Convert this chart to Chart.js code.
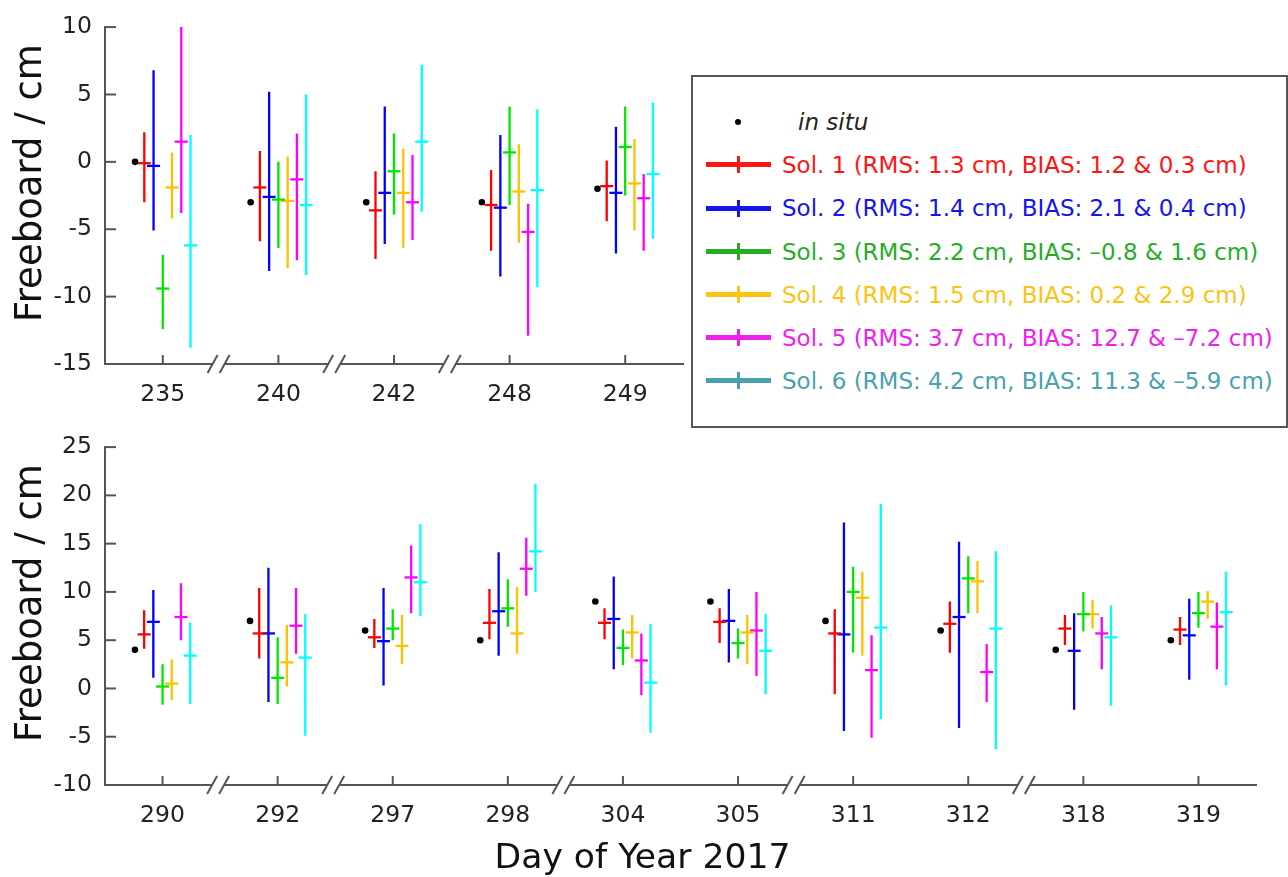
<!DOCTYPE html>
<html>
<head>
<meta charset="utf-8">
<script src="https://cdn.jsdelivr.net/npm/chart.js@4.4.1/dist/chart.umd.min.js"></script>
<style>
  html, body { margin: 0; padding: 0; background: #fff; }
  #wrap { position: relative; width: 1288px; height: 877px; overflow: hidden; font-family: 'DejaVu Sans', sans-serif; }
  canvas { position: absolute; left: 0; }
  #c1 { top: 0; }
  #c2 { top: 420px; }
  #xtitle { position: absolute; left: 0; width: 1285px; top: 839px; text-align: center; font-size: 34.6px; line-height: 35px; color: #111; white-space: nowrap; }
  .ytitle { position: absolute; font-size: 37px; line-height: 37px; color: #111; white-space: nowrap; transform: translate(-50%, -50%) rotate(-90deg); }
  #legendBox { position: absolute; left: 691px; top: 75px; width: 597px; height: 353px; box-sizing: border-box; border: 2px solid #555; background: #fff; }
  .lg { position: absolute; }
  .lgText { position: absolute; left: 782px; font-size: 23px; line-height: 28px; white-space: nowrap; }
</style>
</head>
<body>
<div id="wrap">
  <canvas id="c1" width="1288" height="420"></canvas>
  <canvas id="c2" width="1288" height="457"></canvas>
  <div class="ytitle" style="left:28px; top:183px;">Freeboard / cm</div>
  <div class="ytitle" style="left:28px; top:603px;">Freeboard / cm</div>
  <div id="legendBox"></div>
  <div id="xtitle">Day of Year 2017</div>
</div>
<script>
// ---------------- data ----------------
const topDays = ['235', '240', '242', '248', '249'];
const bottomDays = ['290', '292', '297', '298', '304', '305', '311', '312', '318', '319'];
const topYTicks = [-15, -10, -5, 0, 5, 10];
const bottomYTicks = [-10, -5, 0, 5, 10, 15, 20, 25];
const topBreaks = [0, 1, 2];          // axis break after category index
const bottomBreaks = [0, 1, 3, 5, 7];

const inSituTop = [0, -3, -3, -3, -2];
// each entry: [mean, low, high]
const sol1Top = [[-0.1, -3.0, 2.2], [-1.9, -5.9, 0.8], [-3.6, -7.2, -0.7], [-3.2, -6.6, -0.6], [-1.8, -4.4, 0.1]];
const sol2Top = [[-0.3, -5.1, 6.8], [-2.6, -8.1, 5.2], [-2.3, -6.1, 4.1], [-3.4, -8.5, 2.0], [-2.3, -6.8, 2.6]];
const sol3Top = [[-9.4, -12.4, -6.9], [-2.8, -6.4, 0.0], [-0.7, -3.9, 2.1], [0.7, -3.2, 4.1], [1.1, -2.5, 4.1]];
const sol4Top = [[-1.9, -4.2, 0.7], [-2.9, -7.9, 0.4], [-2.3, -6.4, 1.0], [-2.2, -6.0, 1.3], [-1.6, -5.1, 1.7]];
const sol5Top = [[1.5, -3.8, 10.0], [-1.3, -7.3, 2.1], [-3.0, -5.8, 0.5], [-5.2, -12.9, -3.1], [-2.7, -6.6, -0.9]];
const sol6Top = [[-6.2, -13.8, 2.0], [-3.2, -8.4, 5.0], [1.5, -3.7, 7.2], [-2.1, -9.3, 3.9], [-0.9, -5.7, 4.4]];

const inSituBottom = [4, 7, 6, 5, 9, 9, 7, 6, 4, 5];
const sol1Bottom = [[5.6, 4.1, 8.1], [5.7, 3.1, 10.4], [5.3, 4.2, 7.2], [6.8, 5.1, 10.3], [6.8, 5.1, 8.3], [6.9, 4.7, 8.3], [5.7, -0.6, 8.2], [6.7, 3.7, 9.0], [6.2, 4.5, 7.6], [6.1, 4.5, 7.4]];
const sol2Bottom = [[6.9, 1.1, 10.2], [5.7, -1.4, 12.5], [4.9, 0.3, 10.4], [8.0, 3.4, 14.1], [7.2, 2.0, 11.6], [7.0, 2.7, 10.3], [5.6, -4.4, 17.2], [7.4, -4.1, 15.2], [3.9, -2.2, 7.8], [5.5, 0.9, 9.3]];
const sol3Bottom = [[0.2, -1.7, 2.5], [1.1, -1.6, 5.3], [6.2, 5.0, 8.2], [8.3, 6.4, 11.3], [4.2, 2.4, 6.1], [4.7, 3.1, 6.2], [10.0, 3.7, 12.6], [11.4, 7.8, 13.7], [7.7, 5.9, 10.0], [7.8, 6.3, 10.0]];
const sol4Bottom = [[0.5, -1.2, 3.0], [2.7, 0.2, 6.6], [4.4, 2.5, 7.6], [5.7, 3.6, 10.5], [5.8, 3.1, 7.6], [5.8, 2.5, 7.6], [9.4, 3.4, 12.1], [11.1, 7.8, 13.2], [7.7, 6.2, 9.2], [9.0, 7.2, 10.1]];
const sol5Bottom = [[7.4, 5.0, 10.9], [6.5, 3.6, 10.4], [11.5, 7.8, 14.8], [12.4, 9.6, 15.6], [2.9, -0.7, 5.7], [6.0, 1.3, 10.0], [1.9, -5.1, 5.5], [1.7, -1.4, 4.6], [5.7, 2.0, 7.4], [6.4, 2.0, 8.9]];
const sol6Bottom = [[3.4, -1.6, 6.8], [3.2, -4.9, 7.7], [11.0, 7.5, 17.0], [14.2, 10.0, 21.2], [0.6, -4.6, 6.7], [3.9, -0.6, 7.7], [6.3, -3.2, 19.1], [6.2, -6.3, 14.2], [5.3, -1.8, 8.6], [7.9, 0.3, 12.1]];

const legendLabels = [
  'Sol. 1 (RMS: 1.3 cm, BIAS: 1.2 & 0.3 cm)',
  'Sol. 2 (RMS: 1.4 cm, BIAS: 2.1 & 0.4 cm)',
  'Sol. 3 (RMS: 2.2 cm, BIAS: \u20130.8 & 1.6 cm)',
  'Sol. 4 (RMS: 1.5 cm, BIAS: 0.2 & 2.9 cm)',
  'Sol. 5 (RMS: 3.7 cm, BIAS: 12.7 & \u20137.2 cm)',
  'Sol. 6 (RMS: 4.2 cm, BIAS: 11.3 & \u20135.9 cm)'
];

// ---------------- styles ----------------
const SERIES_COLORS = ['#ff0000', '#0000ff', '#00e600', '#ffc000', '#ff00ff', '#00ffff'];
const LEGEND_COLORS = ['#ff1414', '#1414f0', '#26ad26', '#fcc313', '#f01ef0', '#4a9fb2'];
const OFFSETS = [-0.24, -0.16, -0.08, 0, 0.08, 0.16, 0.24];
const AXIS = '#555555';
const FONT = 'DejaVu Sans';

Chart.defaults.font.family = FONT;
Chart.defaults.animation = false;

const axisDeco = {
  id: 'axisDeco',
  afterDraw(chart, args, opts) {
    const { ctx, chartArea } = chart;
    const x = chart.scales.x, y = chart.scales.y;
    ctx.save();
    ctx.strokeStyle = AXIS;
    ctx.lineWidth = 2;
    x.ticks.forEach(t => {
      const px = x.getPixelForValue(t.value);
      ctx.beginPath(); ctx.moveTo(px, chartArea.bottom); ctx.lineTo(px, chartArea.bottom - 9); ctx.stroke();
    });
    y.ticks.forEach(t => {
      const py = y.getPixelForValue(t.value);
      ctx.beginPath(); ctx.moveTo(chartArea.left, py); ctx.lineTo(chartArea.left + 11, py); ctx.stroke();
    });
    (opts.breaks || []).forEach(i => {
      const cx = x.getPixelForValue(i + 0.5) - 2;
      const by = chartArea.bottom;
      ctx.fillStyle = '#fff';
      ctx.fillRect(cx - 6, by - 2, 12, 4);
      [-6, 6].forEach(d => {
        ctx.beginPath(); ctx.moveTo(cx + d - 5, by + 9); ctx.lineTo(cx + d + 5, by - 9); ctx.stroke();
      });
    });
    ctx.restore();
  }
};

function makeChart(canvasId, days, yTicks, inSitu, sols, breaks, padRight, xHeight) {
  const datasets = [];
  datasets.push({
    label: 'in situ',
    data: inSitu.map((v, i) => ({ x: i + OFFSETS[0], y: v })),
    pointStyle: 'circle', pointRadius: 3.3, backgroundColor: '#000', borderColor: '#000', borderWidth: 0,
    showLine: false, order: 0, clip: false
  });
  sols.forEach((s, k) => {
    datasets.push({
      label: 'Sol. ' + (k + 1) + ' mean',
      data: s.map((d, i) => ({ x: i + OFFSETS[k + 1], y: d[0] })),
      pointStyle: 'line', pointRadius: 6.5, borderColor: SERIES_COLORS[k], backgroundColor: SERIES_COLORS[k],
      borderWidth: 2.3, showLine: false, order: 1, clip: false
    });
  });
  sols.forEach((s, k) => {
    const pts = [];
    s.forEach((d, i) => {
      const xx = i + OFFSETS[k + 1];
      pts.push({ x: xx, y: d[1] }, { x: xx, y: d[2] }, { x: xx, y: null });
    });
    datasets.push({
      label: 'Sol. ' + (k + 1) + ' range',
      data: pts, showLine: true, spanGaps: false, pointRadius: 0,
      borderColor: SERIES_COLORS[k], borderWidth: 2.3, borderCapStyle: 'butt', order: 2, clip: false
    });
  });

  return new Chart(document.getElementById(canvasId), {
    type: 'scatter',
    data: { datasets },
    plugins: [axisDeco],
    options: {
      responsive: false,
      animation: false,
      events: [],
      layout: { padding: { top: 18, right: padRight, left: 0, bottom: 0 } },
      plugins: { legend: { display: false }, tooltip: { enabled: false }, axisDeco: { breaks } },
      scales: {
        x: {
          type: 'linear', min: -0.5, max: days.length - 0.5,
          afterBuildTicks: sc => { sc.ticks = days.map((_, i) => ({ value: i })); },
          ticks: { callback: v => days[v], font: { size: 23.5 }, color: '#222', padding: 17, maxRotation: 0, autoSkip: false },
          grid: { display: false, drawTicks: false },
          border: { display: true, color: AXIS, width: 2 },
          afterFit: sc => { sc.height = xHeight; }
        },
        y: {
          type: 'linear', min: yTicks[0], max: yTicks[yTicks.length - 1],
          afterBuildTicks: sc => { sc.ticks = yTicks.map(v => ({ value: v })); },
          ticks: { callback: v => String(v), font: { size: 23.5 }, color: '#222', padding: 13 },
          grid: { display: false, drawTicks: false },
          border: { display: true, color: AXIS, width: 2 },
          title: { display: false },
          afterFit: sc => { sc.width = 105; }
        }
      }
    }
  });
}

makeChart('c1', topDays, topYTicks, inSituTop,
  [sol1Top, sol2Top, sol3Top, sol4Top, sol5Top, sol6Top], topBreaks, 605, 56);
makeChart('c2', bottomDays, bottomYTicks, inSituBottom,
  [sol1Bottom, sol2Bottom, sol3Bottom, sol4Bottom, sol5Bottom, sol6Bottom], bottomBreaks, 32, 92);

// ---------------- legend (HTML) ----------------
const wrap = document.getElementById('wrap');
const rowY = [122, 164.5, 208, 251.5, 294.5, 337.5, 380.5];
function addDiv(css, text, cls) {
  const d = document.createElement('div');
  d.className = cls || 'lg';
  Object.assign(d.style, css);
  if (text !== undefined) d.textContent = text;
  wrap.appendChild(d);
  return d;
}
addDiv({ left: '735px', top: (rowY[0] - 3) + 'px', width: '6px', height: '6px', borderRadius: '50%', background: '#000' });
addDiv({ left: '798px', top: (rowY[0] - 14) + 'px', fontStyle: 'italic', color: '#222' }, 'in situ', 'lgText');
legendLabels.forEach((lab, k) => {
  const cy = rowY[k + 1];
  addDiv({ left: '706px', top: (cy - 2.5) + 'px', width: '65px', height: '5px', background: LEGEND_COLORS[k] });
  addDiv({ left: '736.5px', top: (cy - 8.5) + 'px', width: '3px', height: '17px', background: LEGEND_COLORS[k] });
  addDiv({ top: (cy - 14) + 'px', color: LEGEND_COLORS[k] }, lab, 'lgText');
});
</script>
</body>
</html>
